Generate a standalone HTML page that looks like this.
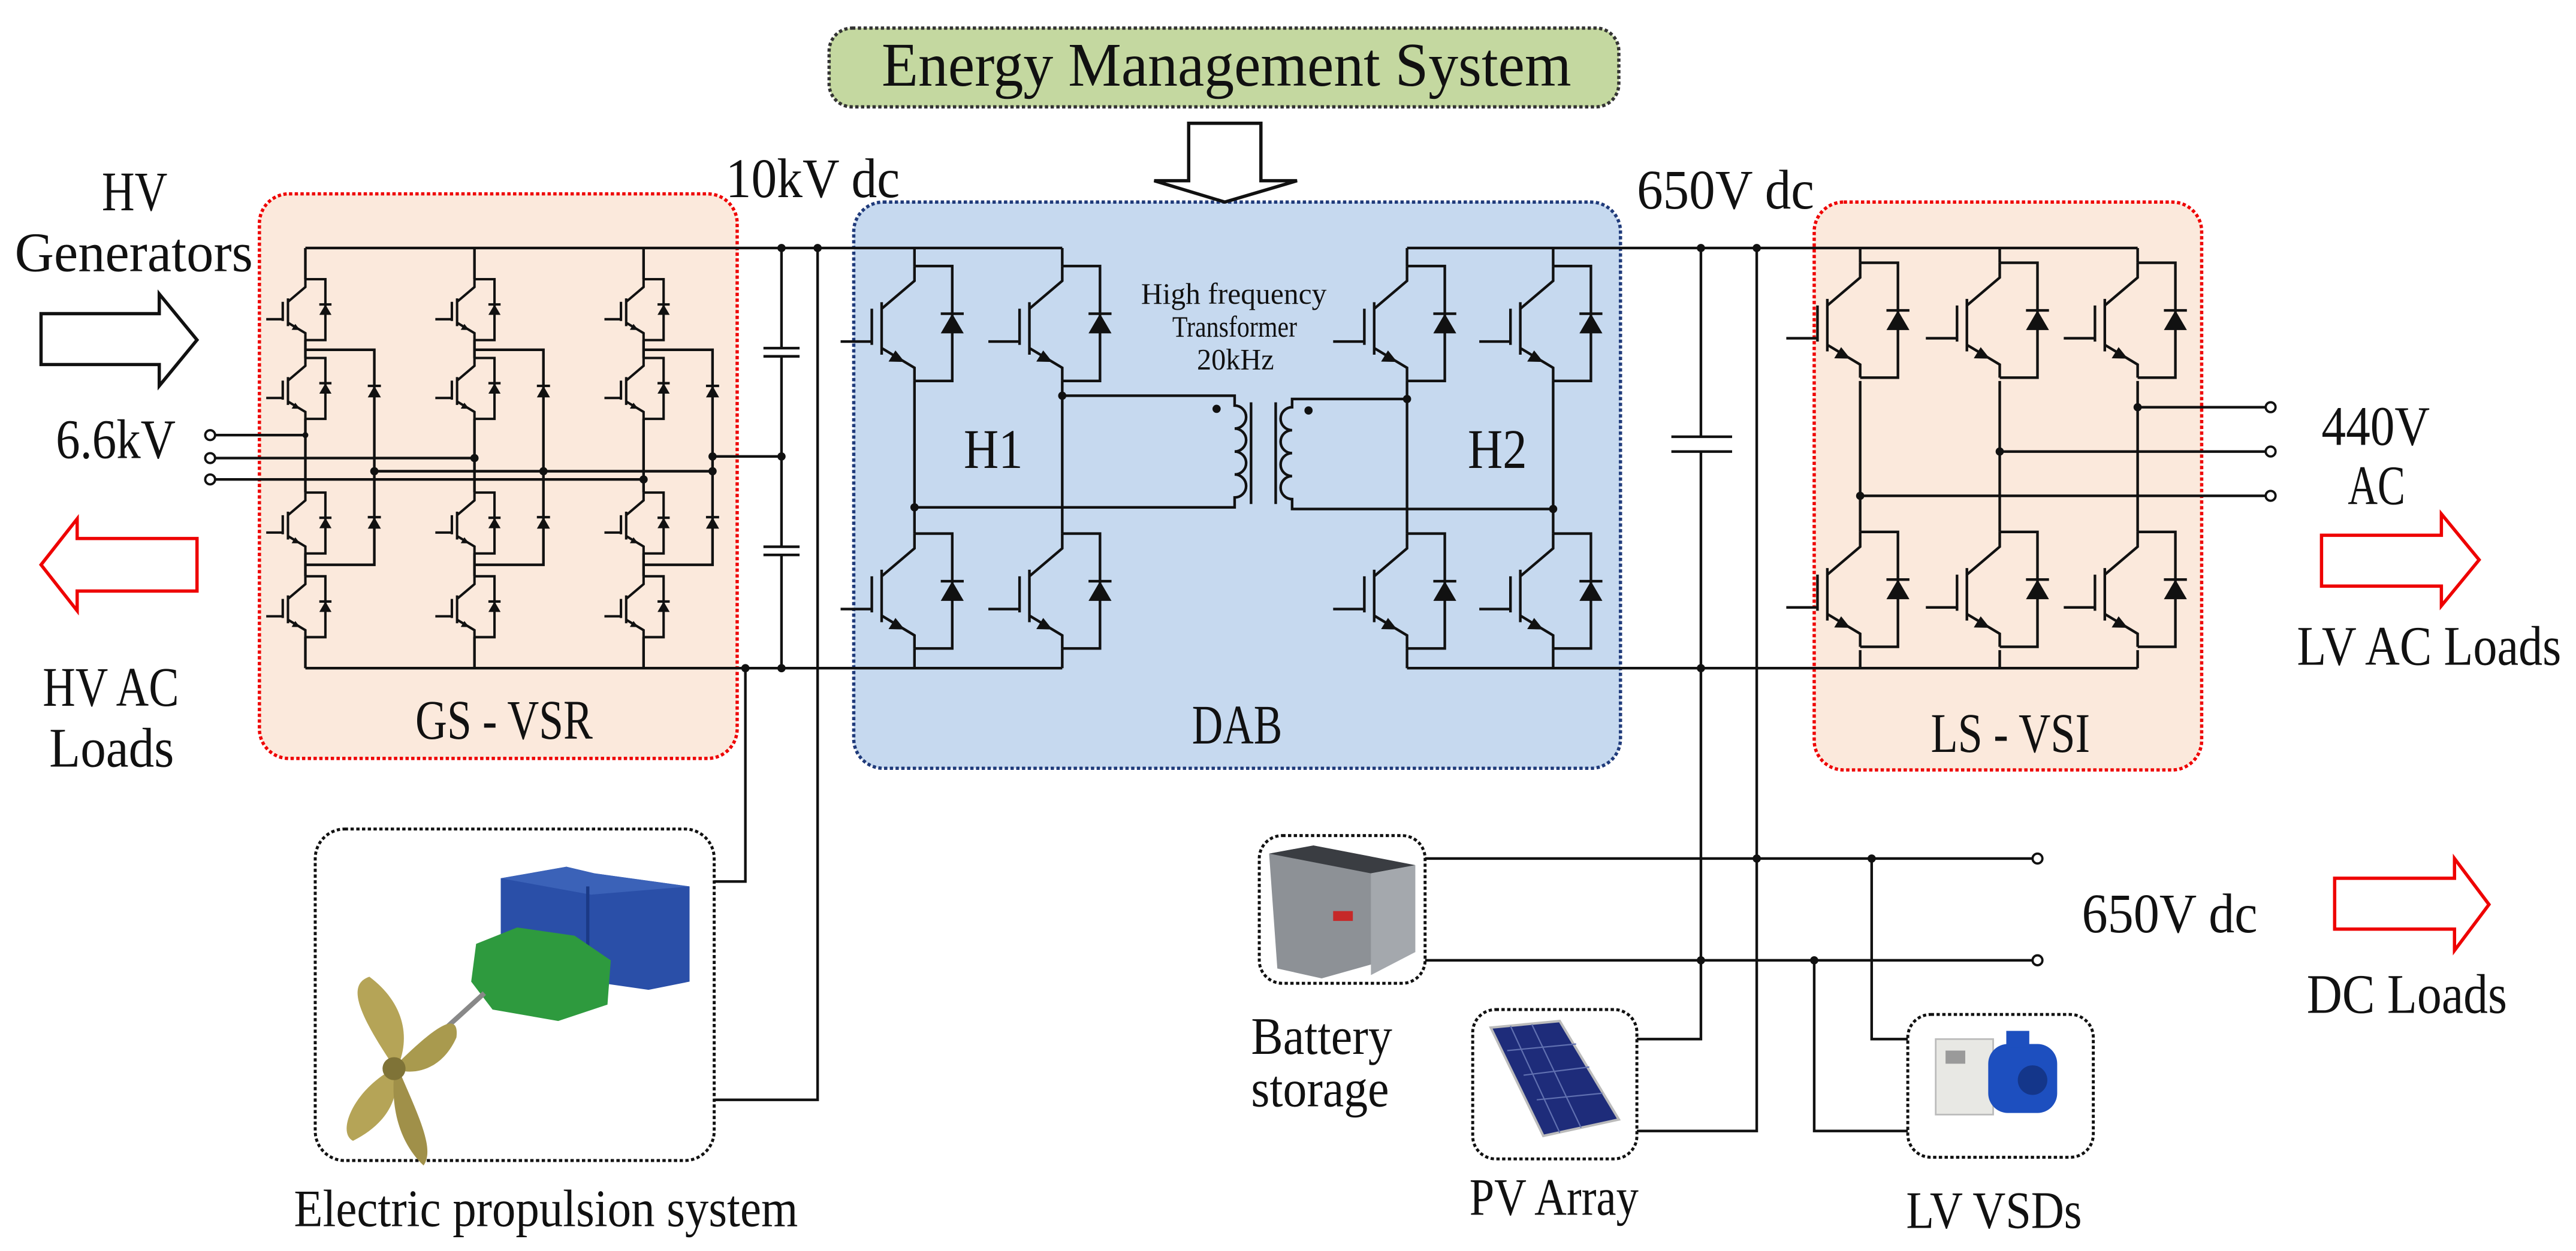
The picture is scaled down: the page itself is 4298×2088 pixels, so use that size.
<!DOCTYPE html>
<html><head><meta charset="utf-8"><style>
html,body{margin:0;padding:0;background:#fff}
svg{display:block}
text{font-family:"Liberation Serif",serif;fill:#111}
</style></head><body>
<svg width="4298" height="2088" viewBox="0 0 1569 762" xmlns="http://www.w3.org/2000/svg">
<defs>
<g id="sw" fill="none" stroke="#111" stroke-width="1.6">
<path d="M0,0 V9 L-20,26 M-20,22 V54 M-26,26 V48 M-45,46 H-26 M-20,50 L0,62 V70 M0,0 H23 V70 H0 M16,29 H30"/>
<polygon points="-6,58.4 -15.8,58.2 -11.6,51.4" fill="#111" stroke="none"/>
<polygon points="23,29 16,41 30,41" fill="#111" stroke="none"/>
</g>
<g id="sws" fill="none" stroke="#111" stroke-width="2.8">
<path d="M0,0 V9 L-20,26 M-20,22 V54 M-26,26 V48 M-45,46 H-26 M-20,50 L0,62 V70 M0,0 H23 V70 H0 M16,29 H30"/>
<polygon points="-6,58.4 -15.8,58.2 -11.6,51.4" fill="#111" stroke="none"/>
<polygon points="23,29 16,41 30,41" fill="#111" stroke="none"/>
</g>
<g id="cd"><path d="M-4,-3 H4" stroke="#111" stroke-width="1.5"/><polygon points="0,-3 -4,4 4,4" fill="#111"/></g>
</defs>

<rect x="505" y="17" width="481" height="48" rx="14" fill="#c4d8a0" stroke="#333" stroke-width="2" stroke-dasharray="2 1.5"/>
<rect x="158" y="118" width="291" height="344" rx="18" fill="#fbe9dc" stroke="#e00" stroke-width="2" stroke-dasharray="2 1.5"/>
<rect x="520" y="123" width="467" height="345" rx="18" fill="#c6d9ef" stroke="#1f3a7a" stroke-width="2" stroke-dasharray="2 1.5"/>
<rect x="1105" y="123" width="236" height="346" rx="18" fill="#fbe9dc" stroke="#e00" stroke-width="2" stroke-dasharray="2 1.5"/>
<rect x="192" y="505" width="243" height="202" rx="18" fill="#fff" stroke="#111" stroke-width="1.8" stroke-dasharray="2 1.5"/>
<rect x="767" y="509" width="101" height="90" rx="14" fill="#fff" stroke="#111" stroke-width="1.8" stroke-dasharray="2 1.5"/>
<rect x="897" y="615" width="100" height="91" rx="14" fill="#fff" stroke="#111" stroke-width="1.8" stroke-dasharray="2 1.5"/>
<rect x="1162" y="618" width="113" height="87" rx="14" fill="#fff" stroke="#111" stroke-width="1.8" stroke-dasharray="2 1.5"/>

<polygon points="724,75 768,75 768,110 790,110 746,123 703,110 724,110" fill="#fff" stroke="#111" stroke-width="2"/>
<polygon points="25,191 97,191 97,179 120,207 97,235 97,222 25,222" fill="#fff" stroke="#111" stroke-width="2"/>
<polygon points="120,328 47,328 47,316 25,344 47,372 47,360 120,360" fill="#fff" stroke="#e00" stroke-width="2"/>
<polygon points="1414,326 1487,326 1487,313 1510,341 1487,369 1487,357 1414,357" fill="#fff" stroke="#e00" stroke-width="2"/>
<polygon points="1422,535 1495,535 1495,523 1516,551 1495,579 1495,566 1422,566" fill="#fff" stroke="#e00" stroke-width="2"/>

<g fill="none" stroke="#111" stroke-width="1.6">
<path d="M186,151 H647 M186,407 H647"/>
<path d="M186,151 V170 M186,207 V218 M186,255 V300 M186,337 V351 M186,388 V407 M186,213 H228 V344 H186"/>
<path d="M289,151 V170 M289,207 V218 M289,255 V300 M289,337 V351 M289,388 V407 M289,213 H331 V344 H289"/>
<path d="M392,151 V170 M392,207 V218 M392,255 V300 M392,337 V351 M392,388 V407 M392,213 H434 V344 H392"/>
<path d="M228,287 H434 M434,278 H476"/>
<path d="M131,265 H186 M131,279 H289 M131,292 H392"/>
<path d="M476,151 V212 M465,212 H487 M465,217 H487 M476,217 V333 M465,333 H487 M465,338 H487 M476,338 V407"/>
<path d="M498,151 V670 H435 M454,407 V537 H435"/>
</g>
<use href="#sws" transform="translate(186,170) scale(0.53)"/><use href="#sws" transform="translate(186,218) scale(0.53)"/>
<use href="#sws" transform="translate(186,300) scale(0.53)"/><use href="#sws" transform="translate(186,351) scale(0.53)"/>
<use href="#sws" transform="translate(289,170) scale(0.53)"/><use href="#sws" transform="translate(289,218) scale(0.53)"/>
<use href="#sws" transform="translate(289,300) scale(0.53)"/><use href="#sws" transform="translate(289,351) scale(0.53)"/>
<use href="#sws" transform="translate(392,170) scale(0.53)"/><use href="#sws" transform="translate(392,218) scale(0.53)"/>
<use href="#sws" transform="translate(392,300) scale(0.53)"/><use href="#sws" transform="translate(392,351) scale(0.53)"/>
<use href="#cd" x="228" y="238"/><use href="#cd" x="228" y="318"/>
<use href="#cd" x="331" y="238"/><use href="#cd" x="331" y="318"/>
<use href="#cd" x="434" y="238"/><use href="#cd" x="434" y="318"/>
<g fill="#111">
<circle cx="228" cy="287" r="2.5"/><circle cx="331" cy="287" r="2.5"/><circle cx="434" cy="287" r="2.5"/><circle cx="434" cy="278" r="2.5"/><circle cx="476" cy="278" r="2.5"/>
<circle cx="186" cy="265" r="1.8"/><circle cx="289" cy="279" r="2.5"/><circle cx="392" cy="292" r="2.5"/>
<circle cx="476" cy="151" r="2.5"/><circle cx="498" cy="151" r="2.5"/><circle cx="476" cy="407" r="2.5"/><circle cx="454" cy="407" r="2.5"/>
</g>
<g fill="#fff" stroke="#111" stroke-width="1.4">
<circle cx="128" cy="265" r="3"/><circle cx="128" cy="279" r="3"/><circle cx="128" cy="292" r="3"/>
</g>

<g fill="none" stroke="#111" stroke-width="1.6">
<path d="M557,151 V162 M557,232 V325 M557,395 V407 M647,151 V162 M647,232 V325 M647,395 V407"/>
<path d="M647,241 H752 V247 a7,7 0 0 1 0,14 a7,7 0 0 1 0,14 a7,7 0 0 1 0,14 a7,7 0 0 1 0,14 V309 H557"/>
<path d="M762,245 V307 M777,245 V307"/>
<path d="M857,243 H787 V248 a7,7 0 0 0 0,14 a7,7 0 0 0 0,14 a7,7 0 0 0 0,14 a7,7 0 0 0 0,14 V310 H946"/>
<path d="M857,151 H1302 M857,407 H1302"/>
<path d="M857,151 V162 M857,232 V325 M857,395 V407 M946,151 V162 M946,232 V325 M946,395 V407"/>
</g>
<use href="#sw" x="557" y="162"/><use href="#sw" x="557" y="325"/>
<use href="#sw" x="647" y="162"/><use href="#sw" x="647" y="325"/>
<use href="#sw" x="857" y="162"/><use href="#sw" x="857" y="325"/>
<use href="#sw" x="946" y="162"/><use href="#sw" x="946" y="325"/>
<g fill="#111">
<circle cx="647" cy="241" r="2.5"/><circle cx="557" cy="309" r="2.5"/><circle cx="857" cy="243" r="2.5"/><circle cx="946" cy="310" r="2.5"/>
<circle cx="741" cy="249" r="2.5"/><circle cx="797" cy="250" r="2.5"/>
</g>

<g fill="none" stroke="#111" stroke-width="1.6">
<path d="M1036,151 V266 M1018,266 H1055 M1018,275 H1055 M1036,275 V633 H997"/>
<path d="M1070,151 V689 H997"/>
<path d="M1133,151 V160 M1133,232 V324 M1133,396 V407 M1218,151 V160 M1218,232 V324 M1218,396 V407 M1302,151 V160 M1302,232 V324 M1302,396 V407"/>
<path d="M1302,248 H1380 M1218,275 H1380 M1133,302 H1380"/>
<path d="M868,523 H1238 M868,585 H1238 M1140,523 V633 H1162 M1105,585 V689 H1162"/>
</g>
<use href="#sw" x="1133" y="160"/><use href="#sw" x="1133" y="324"/>
<use href="#sw" x="1218" y="160"/><use href="#sw" x="1218" y="324"/>
<use href="#sw" x="1302" y="160"/><use href="#sw" x="1302" y="324"/>
<g fill="#111">
<circle cx="1036" cy="151" r="2.5"/><circle cx="1070" cy="151" r="2.5"/><circle cx="1036" cy="407" r="2.5"/>
<circle cx="1302" cy="248" r="2.5"/><circle cx="1218" cy="275" r="2.5"/><circle cx="1133" cy="302" r="2.5"/>
<circle cx="1070" cy="523" r="2.5"/><circle cx="1140" cy="523" r="2.5"/><circle cx="1036" cy="585" r="2.5"/><circle cx="1105" cy="585" r="2.5"/>
</g>
<g fill="#fff" stroke="#111" stroke-width="1.4">
<circle cx="1383" cy="248" r="3"/><circle cx="1383" cy="275" r="3"/><circle cx="1383" cy="302" r="3"/>
<circle cx="1241" cy="523" r="3"/><circle cx="1241" cy="585" r="3"/>
</g>

<g>
<polygon points="305,535 345,528 362,532 420,540 420,598 395,603 305,590" fill="#2a4fa8"/>
<polygon points="305,535 345,528 362,532 420,540 360,545" fill="#3b62b8"/>
<line x1="358" y1="540" x2="358" y2="598" stroke="#1b3a86" stroke-width="2"/>
<polygon points="290,575 315,565 350,570 372,585 370,612 340,622 300,615 287,598" fill="#2e9a3e"/>
<line x1="295" y1="605" x2="240" y2="655" stroke="#888" stroke-width="3"/>
<path d="M240,650 C220,620 210,600 225,595 C245,610 250,630 243,648 Z" fill="#b5a457"/>
<path d="M240,650 C265,625 280,615 278,632 C270,650 255,655 243,652 Z" fill="#a99a4e"/>
<path d="M238,652 C215,665 205,690 215,695 C235,685 243,670 241,655 Z" fill="#b5a457"/>
<path d="M243,652 C255,680 265,700 258,710 C245,698 238,678 240,655 Z" fill="#a09049"/>
<circle cx="240" cy="651" r="7" fill="#7f7337"/>
</g>
<g>
<polygon points="773,520 800,515 862,527 862,580 805,596 778,590" fill="#8d9196"/>
<polygon points="773,520 800,515 862,527 835,532" fill="#3a3d42"/>
<polygon points="835,532 862,527 862,580 835,594" fill="#a4a8ad"/>
<rect x="812" y="555" width="12" height="6" fill="#c62828"/>
</g>
<g>
<polygon points="908,626 950,622 986,682 940,692" fill="#1e2c7a" stroke="#bbb" stroke-width="1.5"/>
<path d="M918,640 L960,636 M928,655 L968,650 M936,670 L976,666 M920,625 L950,690 M933,624 L963,687" stroke="#6070b0" stroke-width="0.8"/>
</g>
<g>
<rect x="1179" y="633" width="35" height="46" fill="#e8e8e4" stroke="#bbb"/>
<rect x="1185" y="640" width="12" height="8" fill="#9a9a9a"/>
<rect x="1211" y="636" width="42" height="42" rx="12" fill="#1d4fbf"/>
<circle cx="1238" cy="658" r="9" fill="#14368a"/>
<rect x="1222" y="628" width="14" height="10" fill="#1d4fbf"/>
</g>

<text x="537" y="52" font-size="38" textLength="420" lengthAdjust="spacingAndGlyphs">Energy Management System</text>
<text x="62" y="128" font-size="34" textLength="40" lengthAdjust="spacingAndGlyphs">HV</text>
<text x="9" y="165" font-size="34" textLength="145" lengthAdjust="spacingAndGlyphs">Generators</text>
<text x="34" y="279" font-size="34" textLength="73" lengthAdjust="spacingAndGlyphs">6.6kV</text>
<text x="26" y="430" font-size="34" textLength="83" lengthAdjust="spacingAndGlyphs">HV AC</text>
<text x="30" y="467" font-size="34" textLength="76" lengthAdjust="spacingAndGlyphs">Loads</text>
<text x="442" y="120" font-size="34" textLength="106" lengthAdjust="spacingAndGlyphs">10kV dc</text>
<text x="997" y="127" font-size="34" textLength="108" lengthAdjust="spacingAndGlyphs">650V dc</text>
<text x="1414" y="271" font-size="34" textLength="66" lengthAdjust="spacingAndGlyphs">440V</text>
<text x="1430" y="307" font-size="34" textLength="35" lengthAdjust="spacingAndGlyphs">AC</text>
<text x="1399" y="405" font-size="34" textLength="161" lengthAdjust="spacingAndGlyphs">LV AC Loads</text>
<text x="253" y="450" font-size="34" textLength="108" lengthAdjust="spacingAndGlyphs">GS - VSR</text>
<text x="726" y="453" font-size="34" textLength="55" lengthAdjust="spacingAndGlyphs">DAB</text>
<text x="1176" y="458" font-size="34" textLength="97" lengthAdjust="spacingAndGlyphs">LS - VSI</text>
<text x="587" y="285" font-size="34" textLength="36" lengthAdjust="spacingAndGlyphs">H1</text>
<text x="894" y="285" font-size="34" textLength="36" lengthAdjust="spacingAndGlyphs">H2</text>
<text x="695" y="185" font-size="18" textLength="113" lengthAdjust="spacingAndGlyphs">High frequency</text>
<text x="714" y="205" font-size="18" textLength="76" lengthAdjust="spacingAndGlyphs">Transformer</text>
<text x="729" y="225" font-size="18" textLength="47" lengthAdjust="spacingAndGlyphs">20kHz</text>
<text x="179" y="747" font-size="32" textLength="307" lengthAdjust="spacingAndGlyphs">Electric propulsion system</text>
<text x="762" y="642" font-size="32" textLength="86" lengthAdjust="spacingAndGlyphs">Battery</text>
<text x="762" y="674" font-size="32" textLength="84" lengthAdjust="spacingAndGlyphs">storage</text>
<text x="1268" y="568" font-size="34" textLength="107" lengthAdjust="spacingAndGlyphs">650V dc</text>
<text x="1405" y="617" font-size="34" textLength="122" lengthAdjust="spacingAndGlyphs">DC Loads</text>
<text x="895" y="740" font-size="32" textLength="103" lengthAdjust="spacingAndGlyphs">PV Array</text>
<text x="1161" y="748" font-size="32" textLength="107" lengthAdjust="spacingAndGlyphs">LV VSDs</text>
</svg>
</body></html>
